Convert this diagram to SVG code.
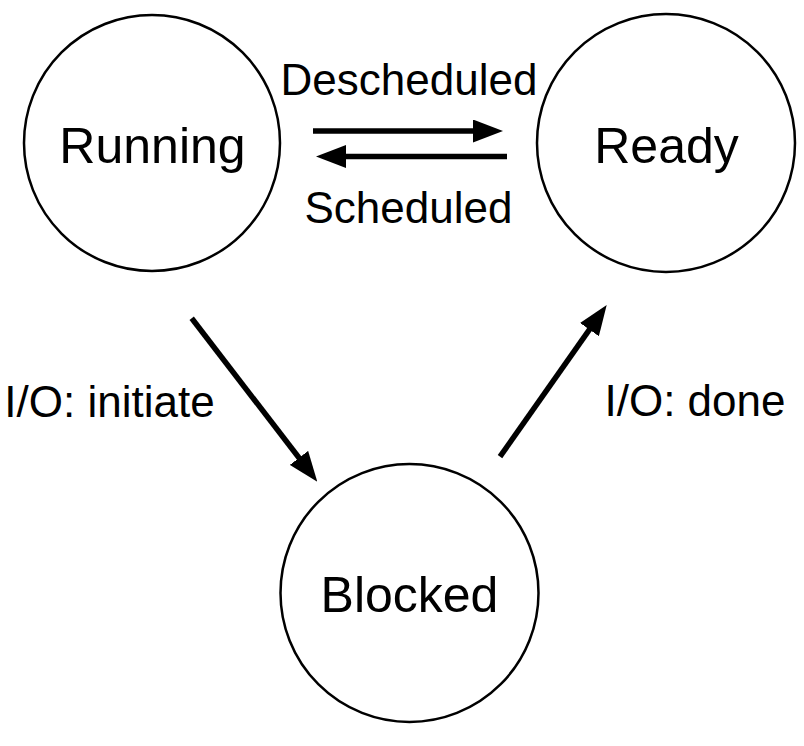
<svg xmlns="http://www.w3.org/2000/svg" width="804" height="746" viewBox="0 0 804 746">
<style>
.node circle{fill:#fff;stroke:#000;stroke-width:2.5}
.lbl{font-family:"Liberation Sans",Arial,sans-serif;fill:#000;text-anchor:middle}
.big{font-size:50px}
.small{font-size:44px}
.conn line{stroke:#000;stroke-width:5.5}
</style>
<defs>
<marker id="ah" viewBox="0 0 30 23" refX="10" refY="11.5" markerWidth="30" markerHeight="23" markerUnits="userSpaceOnUse" orient="auto">
<path d="M0,0 L30,11.5 L0,23 z" fill="#000"/>
</marker>
</defs>
<rect width="804" height="746" fill="#fff"/>
<g id="running" class="node">
<circle cx="152" cy="143" r="128"/>
<text class="lbl big" x="152.5" y="163">Running</text>
</g>
<g id="ready" class="node">
<circle cx="666" cy="143" r="129"/>
<text class="lbl big" x="666.5" y="163">Ready</text>
</g>
<g id="blocked" class="node">
<circle cx="409.5" cy="593" r="129"/>
<text class="lbl big" x="409.5" y="612">Blocked</text>
</g>
<g id="connectors" class="conn">
<line x1="313" y1="131" x2="483" y2="131" marker-end="url(#ah)"/>
<line x1="507" y1="156.5" x2="336" y2="156.5" marker-end="url(#ah)"/>
<line x1="191.7" y1="318.3" x2="305.1" y2="465.8" marker-end="url(#ah)"/>
<line x1="500" y1="456.7" x2="595.2" y2="321.4" marker-end="url(#ah)"/>
</g>
<g id="labels">
<text class="lbl small" x="409" y="95">Descheduled</text>
<text class="lbl small" x="408.5" y="223">Scheduled</text>
<text class="lbl small" x="109.5" y="416.5">I/O: initiate</text>
<text class="lbl small" x="695" y="416">I/O: done</text>
</g>
</svg>
